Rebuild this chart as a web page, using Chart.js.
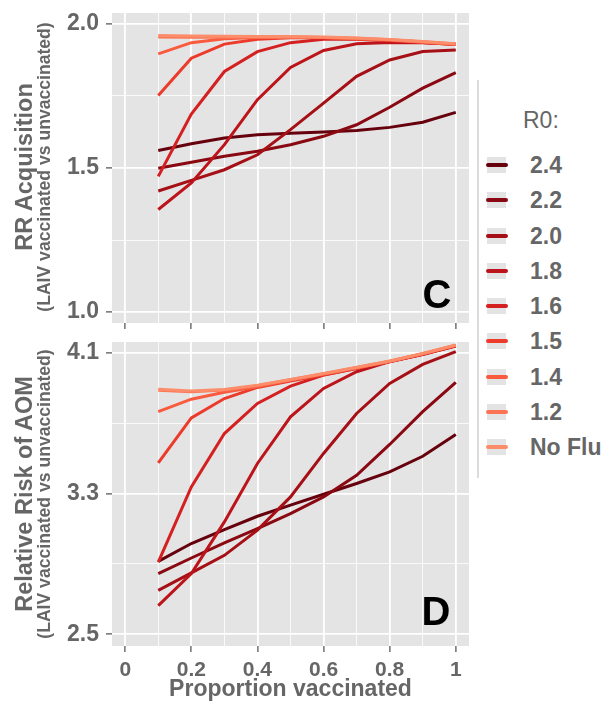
<!DOCTYPE html>
<html>
<head>
<meta charset="utf-8">
<script src="https://cdn.jsdelivr.net/npm/chart.js@4.4.0/dist/chart.umd.min.js"></script>
<style>
  body { margin: 0; background: #fff; font-family: "Liberation Sans", Arial, sans-serif; }
  #wrap { position: relative; width: 614px; height: 703px; overflow: hidden; }
  canvas { position: absolute; left: 0; }
  .ytitle { position: absolute; white-space: nowrap; color: #666; font-weight: bold; line-height: 1;
            transform: translate(-50%, -50%) rotate(-90deg); }
  .letter { position: absolute; font-weight: bold; font-size: 40px; line-height: 1; color: #000;
            transform: translate(-50%, -50%); }
  .legline { position: absolute; left: 477px; top: 80px; width: 2px; height: 398px; background: #dcdcdc; }
  .legtitle { position: absolute; left: 523px; top: 120px; transform: translateY(-50%);
              font-size: 23px; line-height: 1; color: #666; }
  .key { position: absolute; left: 487px; width: 19px; height: 16px; background: #e3e3e3; }
  .keyline { position: absolute; left: 486px; width: 22px; height: 4px; border-radius: 2px; }
  .leglabel { position: absolute; left: 530px; font-size: 23px; font-weight: bold; line-height: 1;
              color: #666; transform: translateY(-50%); white-space: nowrap; }
</style>
</head>
<body>
<div id="wrap">
  <canvas id="panelC" width="480" height="335" style="top:0px"></canvas>
  <canvas id="panelD" width="480" height="373" style="top:330px"></canvas>

  <div class="ytitle" style="left:25px; top:167px; font-size:23.5px;">RR Acquisition</div>
  <div class="ytitle" style="left:45px; top:167px; font-size:17.6px;">(LAIV vaccinated vs unvaccinated)</div>
  <div class="ytitle" style="left:25px; top:494px; font-size:23.5px;">Relative Risk of AOM</div>
  <div class="ytitle" style="left:45px; top:494px; font-size:17.6px;">(LAIV vaccinated vs unvaccinated)</div>

  <div class="letter" style="left:437px; top:294px;">C</div>
  <div class="letter" style="left:436px; top:611px;">D</div>

  <div class="legline"></div>
  <div class="legtitle">R0:</div>
  <div id="legend"></div>
</div>

<script>
// proportion vaccinated
const xValues = [0.1, 0.2, 0.3, 0.4, 0.5, 0.6, 0.7, 0.8, 0.9, 1.0];

// R0 groups, darkest first (legend order)
const r0Labels = ['2.4', '2.2', '2.0', '1.8', '1.6', '1.5', '1.4', '1.2', 'No Flu'];
const r0Colors = ['#67000d', '#8a0812', '#a50f15', '#bc141a', '#d42020', '#ec3a2b', '#fa5a3d', '#fc7453', '#fc8d6b'];

// panel C: RR acquisition
const acq24    = [1.561, 1.584, 1.604, 1.615, 1.621, 1.625, 1.630, 1.641, 1.659, 1.693];
const acq22    = [1.499, 1.520, 1.541, 1.558, 1.581, 1.610, 1.650, 1.711, 1.777, 1.831];
const acq20    = [1.420, 1.457, 1.494, 1.546, 1.633, 1.725, 1.818, 1.875, 1.904, 1.910];
const acq18    = [1.356, 1.448, 1.581, 1.737, 1.849, 1.908, 1.931, 1.936, 1.935, 1.930];
const acq16    = [1.471, 1.687, 1.835, 1.904, 1.935, 1.947, 1.947, 1.942, 1.936, 1.929];
const acq15    = [1.752, 1.881, 1.930, 1.947, 1.952, 1.952, 1.948, 1.943, 1.936, 1.929];
const acq14    = [1.896, 1.935, 1.949, 1.953, 1.954, 1.953, 1.949, 1.944, 1.937, 1.929];
const acq12    = [1.955, 1.954, 1.954, 1.954, 1.954, 1.953, 1.950, 1.945, 1.938, 1.930];
const acqNoFlu = [1.960, 1.958, 1.957, 1.956, 1.956, 1.955, 1.951, 1.946, 1.939, 1.931];

// panel D: relative risk of AOM
const aom24    = [2.915, 3.016, 3.095, 3.171, 3.234, 3.296, 3.357, 3.423, 3.512, 3.636];
const aom22    = [2.845, 2.934, 3.020, 3.101, 3.186, 3.281, 3.404, 3.579, 3.765, 3.931];
const aom20    = [2.750, 2.849, 2.949, 3.092, 3.281, 3.528, 3.755, 3.926, 4.034, 4.106];
const aom18    = [2.663, 2.845, 3.139, 3.471, 3.736, 3.897, 3.992, 4.050, 4.090, 4.138];
const aom16    = [2.911, 3.338, 3.641, 3.812, 3.910, 3.973, 4.010, 4.049, 4.091, 4.139];
const aom15    = [3.474, 3.730, 3.840, 3.903, 3.939, 3.973, 4.011, 4.050, 4.092, 4.140];
const aom14    = [3.766, 3.836, 3.876, 3.907, 3.945, 3.979, 4.015, 4.051, 4.094, 4.142];
const aom12    = [3.887, 3.878, 3.888, 3.913, 3.946, 3.980, 4.015, 4.052, 4.095, 4.143];
const aomNoFlu = [3.893, 3.882, 3.891, 3.916, 3.948, 3.982, 4.017, 4.053, 4.096, 4.144];

// ticks
const xMajorTicks = [0, 0.2, 0.4, 0.6, 0.8, 1];
const xMinorTicks = [0.1, 0.3, 0.5, 0.7, 0.9];
const xTickLabels = ['0', '0.2', '0.4', '0.6', '0.8', '1'];
const acqMajorTicks = [1.0, 1.5, 2.0];
const acqMinorTicks = [1.25, 1.75];
const acqTickLabels = ['1.0', '1.5', '2.0'];
const aomMajorTicks = [2.5, 3.3, 4.1];
const aomMinorTicks = [2.9, 3.7];
const aomTickLabels = ['2.5', '3.3', '4.1'];

const acqSeries = [acq24, acq22, acq20, acq18, acq16, acq15, acq14, acq12, acqNoFlu];
const aomSeries = [aom24, aom22, aom20, aom18, aom16, aom15, aom14, aom12, aomNoFlu];

// grey panel background
const panelBg = {
  id: 'panelBg',
  beforeDraw(chart) {
    const a = chart.chartArea, ctx = chart.ctx;
    ctx.save();
    ctx.fillStyle = '#e4e4e4';
    ctx.fillRect(a.left, a.top, a.right - a.left, a.bottom - a.top);
    ctx.restore();
  }
};

function findMajor(list, v) {
  return list.findIndex(m => Math.abs(m - v) < 1e-9);
}

// no extra room for labels hanging past the ends of an axis
function noOverhang(s) {
  s.paddingTop = 0; s.paddingBottom = 0; s.paddingLeft = 0; s.paddingRight = 0;
}

function axisOpts(major, minor, labels, min, max, showLabels, fontSize, pad) {
  return {
    type: 'linear',
    min: min,
    max: max,
    afterBuildTicks: s => { s.ticks = major.concat(minor).sort((a, b) => a - b).map(v => ({ value: v })); },
    border: { display: false },
    grid: {
      color: '#ffffff',
      lineWidth: c => (c.tick && findMajor(major, c.tick.value) >= 0) ? 1.8 : 0.8,
      tickColor: c => (c.tick && findMajor(major, c.tick.value) >= 0) ? '#4d4d4d' : 'rgba(0,0,0,0)',
      tickWidth: 1.2,
      tickLength: 6,
      drawTicks: true
    },
    ticks: {
      display: showLabels,
      autoSkip: false,
      maxRotation: 0,
      padding: pad,
      color: '#666',
      font: { family: 'Liberation Sans', size: fontSize, weight: 'bold' },
      callback: v => { const k = findMajor(major, v); return k >= 0 ? labels[k] : ''; }
    }
  };
}

function drawPanel(id, series, yMajor, yMinor, yLabels, yMin, yMax, isBottom) {
  const datasets = r0Labels.map((lab, i) => ({
    label: lab,
    data: xValues.map((x, j) => ({ x: x, y: series[i][j] })),
    borderColor: r0Colors[i],
    backgroundColor: r0Colors[i],
    borderWidth: 3,
    pointRadius: 0,
    tension: 0,
    fill: false,
    order: r0Labels.length - 1 - i   // lightest on top
  }));

  const xAxis = axisOpts(xMajorTicks, xMinorTicks, xTickLabels, -0.04, 1.04, isBottom, 21, 6);
  xAxis.afterFit = s => { s.height = isBottom ? 57 : 12; noOverhang(s); };
  if (isBottom) {
    xAxis.title = {
      display: true,
      text: 'Proportion vaccinated',
      color: '#666',
      font: { family: 'Liberation Sans', size: 23, weight: 'bold' },
      padding: { top: 0, bottom: 0 }
    };
  }
  const yAxis = axisOpts(yMajor, yMinor, yLabels, yMin, yMax, true, 23, 7);
  yAxis.afterFit = s => { s.width = 112; noOverhang(s); };

  new Chart(document.getElementById(id), {
    type: 'line',
    data: { datasets: datasets },
    options: {
      responsive: false,
      animation: false,
      layout: { padding: { top: isBottom ? 12 : 13, right: 11, left: 0, bottom: 0 } },
      scales: { x: xAxis, y: yAxis },
      plugins: { legend: { display: false }, tooltip: { enabled: false } }
    },
    plugins: [panelBg]
  });
}

drawPanel('panelC', acqSeries, acqMajorTicks, acqMinorTicks, acqTickLabels, 0.962, 2.038, false);
drawPanel('panelD', aomSeries, aomMajorTicks, aomMinorTicks, aomTickLabels, 2.434, 4.161, true);

// shared legend
const legend = document.getElementById('legend');
r0Labels.forEach((lab, i) => {
  const cy = 165 + i * 35.25;
  legend.insertAdjacentHTML('beforeend',
    '<div class="key" style="top:' + (cy - 8) + 'px"></div>' +
    '<div class="keyline" style="top:' + (cy - 2) + 'px;background:' + r0Colors[i] + '"></div>' +
    '<div class="leglabel" style="top:' + cy + 'px">' + lab + '</div>');
});
</script>
</body>
</html>
